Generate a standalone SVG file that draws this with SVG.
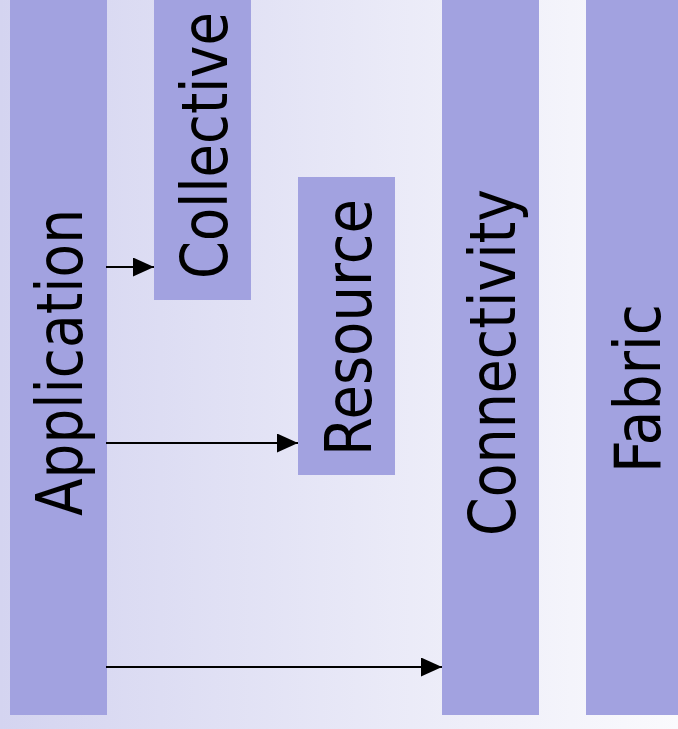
<svg xmlns="http://www.w3.org/2000/svg" width="678" height="729" viewBox="0 0 678 729">
  <defs>
    <linearGradient id="bg" x1="0" y1="0" x2="678" y2="0" gradientUnits="userSpaceOnUse">
      <stop offset="0" stop-color="#d4d4f0"/>
      <stop offset="1" stop-color="#fafafd"/>
    </linearGradient>
    <marker id="arrow" viewBox="0 0 21 19" refX="21" refY="9.5" markerWidth="21" markerHeight="19" markerUnits="userSpaceOnUse" orient="auto">
      <polygon points="0,0 21,9.5 0,19" fill="#000"/>
    </marker>
    <style>
      .bar { fill: #a2a2e0; }
      .label { font-family: "DejaVu Sans", Verdana, sans-serif; font-size: 64px; fill: #000; }
      .conn { stroke: #000; stroke-width: 2; fill: none; marker-end: url(#arrow); }
    </style>
  </defs>

  <rect x="0" y="0" width="678" height="729" fill="url(#bg)"/>

  <g id="application">
    <rect class="bar" x="10" y="0" width="97" height="715"/>
    <text class="label" transform="translate(82,516) rotate(-90)" textLength="307" lengthAdjust="spacingAndGlyphs">Application</text>
  </g>

  <g id="collective">
    <rect class="bar" x="154" y="0" width="97" height="300"/>
    <text class="label" transform="translate(227,279) rotate(-90)" textLength="267" lengthAdjust="spacingAndGlyphs">Collective</text>
  </g>

  <g id="resource">
    <rect class="bar" x="298" y="177" width="97" height="298"/>
    <text class="label" transform="translate(371,456) rotate(-90)" textLength="257" lengthAdjust="spacingAndGlyphs">Resource</text>
  </g>

  <g id="connectivity">
    <rect class="bar" x="442" y="0" width="97" height="715"/>
    <text class="label" transform="translate(515,536) rotate(-90)" textLength="347" lengthAdjust="spacingAndGlyphs">Connectivity</text>
  </g>

  <g id="fabric">
    <rect class="bar" x="586" y="0" width="97" height="715"/>
    <text class="label" transform="translate(660,473) rotate(-90)" textLength="169" lengthAdjust="spacingAndGlyphs">Fabric</text>
  </g>

  <g id="connectors">
    <line class="conn" x1="106" y1="267" x2="154" y2="267"/>
    <line class="conn" x1="106" y1="443" x2="298" y2="443"/>
    <line class="conn" x1="106" y1="667" x2="442" y2="667"/>
  </g>
</svg>
